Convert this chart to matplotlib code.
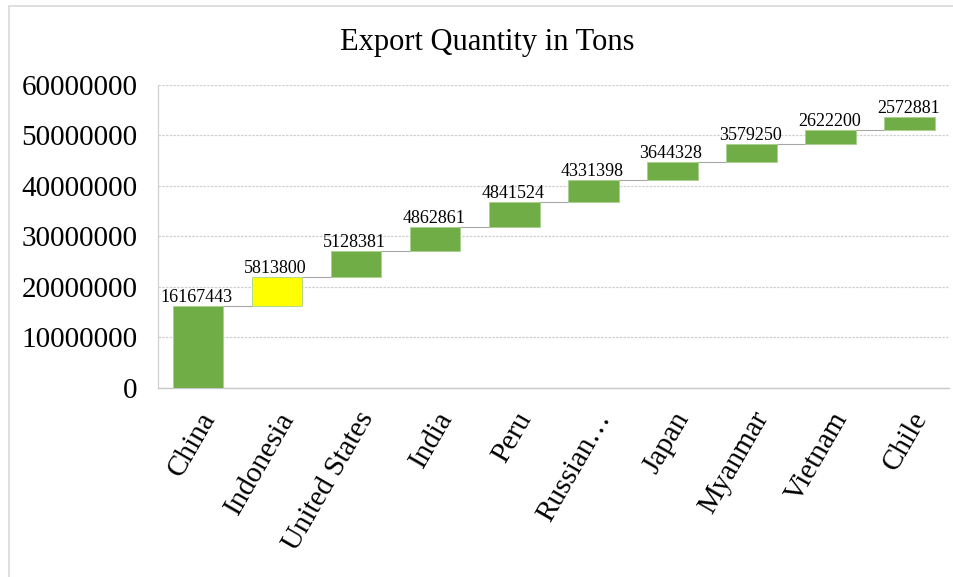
import matplotlib
matplotlib.use("Agg")
import matplotlib.pyplot as plt
from matplotlib.patches import Rectangle
import numpy as np

categories = ["China", "Indonesia", "United States", "India", "Peru",
              "Russian…", "Japan", "Myanmar", "Vietnam", "Chile"]
values = [16167443, 5813800, 5128381, 4862861, 4841524,
          4331398, 3644328, 3579250, 2622200, 2572881]
bar_colors = ["#70AD47", "#FFFF00", "#70AD47", "#70AD47", "#70AD47",
              "#70AD47", "#70AD47", "#70AD47", "#70AD47", "#70AD47"]
yticks = [0, 10000000, 20000000, 30000000, 40000000, 50000000, 60000000]
title = "Export Quantity in Tons"

plt.rcParams['font.family'] = ['Liberation Serif', 'DejaVu Serif']

fig = plt.figure(figsize=(9.54, 5.77), dpi=100)
ax = fig.add_axes([0.166, 0.3276, 0.829, 0.5251])

vals = np.array(values, dtype=float)
bases = np.concatenate([[0], np.cumsum(vals)[:-1]])
tops = bases + vals
x = np.arange(len(categories))
w = 0.64

ax.bar(x, vals, bottom=bases, width=w, color=bar_colors,
       edgecolor="#A9D18E", linewidth=0.6, zorder=3)

for i in range(len(categories) - 1):
    ax.plot([x[i] + w / 2, x[i + 1] - w / 2], [tops[i], tops[i]],
            color="#A6A6A6", lw=0.8, zorder=2)

for i, v in enumerate(values):
    ax.annotate(str(v), (x[i], tops[i]), xytext=(-1, 0), textcoords="offset points",
                ha="center", va="bottom", fontsize=13, color="#000000", zorder=4)

ax.set_xlim(-0.5, len(categories) - 0.5)
ax.set_ylim(0, 60000000)
ax.set_yticks(yticks)
ax.set_yticklabels([str(t) for t in yticks], fontsize=21)
ax.yaxis.grid(True, color="#D0D0D0", lw=0.9, ls=(0, (2, 1)), zorder=0)
ax.set_xticks(x)
ax.set_xticklabels(categories, rotation=60, ha="right", rotation_mode="anchor",
                   fontsize=21)
ax.tick_params(axis="both", length=0)
ax.tick_params(axis="y", pad=15)
ax.tick_params(axis="x", pad=14)
for s in ["top", "right"]:
    ax.spines[s].set_visible(False)
ax.spines["left"].set_color("#D0D0D0")
ax.spines["left"].set_linestyle((0, (2, 1)))
ax.spines["left"].set_linewidth(0.9)
ax.spines["bottom"].set_color("#C8C8C8")
ax.spines["bottom"].set_linewidth(1.0)

fig.text(0.511, 0.927, title, ha="center", va="center", fontsize=22)

fig.add_artist(Rectangle((9 / 954, -0.01), 1.0, 1 - 6 / 577 + 0.01,
                         transform=fig.transFigure, fill=False,
                         edgecolor="#D9D9D9", lw=1.2))

fig.savefig("out.png", dpi=100)
